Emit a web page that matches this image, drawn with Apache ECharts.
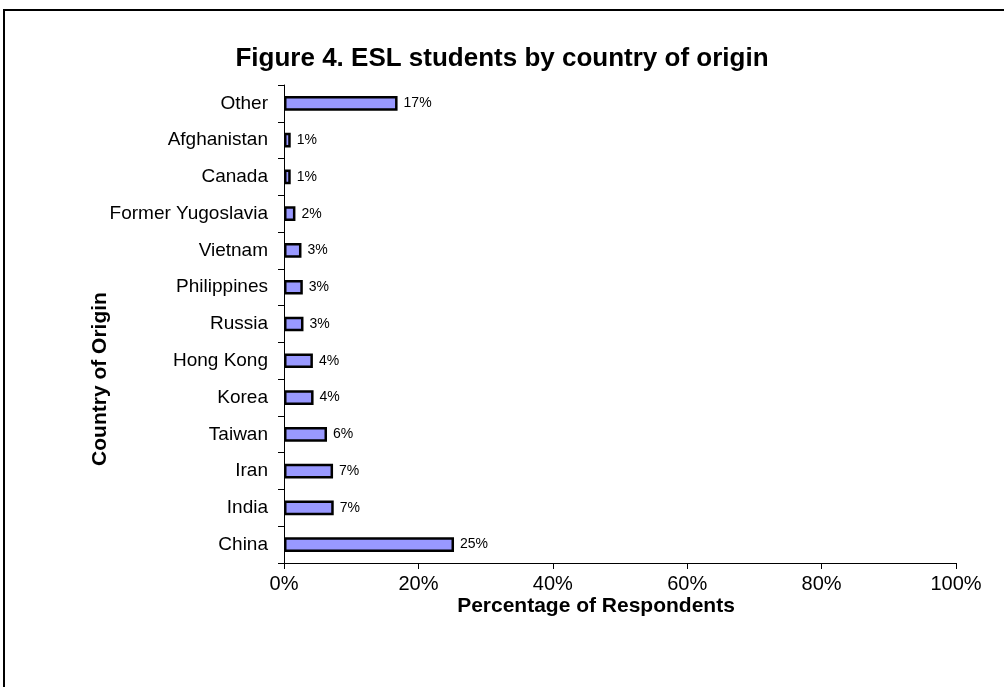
<!DOCTYPE html>
<html>
<head>
<meta charset="utf-8">
<script src="https://cdn.jsdelivr.net/npm/echarts@6/dist/echarts.min.js"></script>
<style>
  html, body { margin: 0; padding: 0; background: #fff; }
  #chart { width: 1004px; height: 687px; }
</style>
</head>
<body>
<div id="chart"></div>
<script>
// Countries, listed bottom-to-top along the category axis
const countries = ['China', 'India', 'Iran', 'Taiwan', 'Korea', 'Hong Kong', 'Russia',
  'Philippines', 'Vietnam', 'Former Yugoslavia', 'Canada', 'Afghanistan', 'Other'];
// Share of respondents (%)
const shares = [25.3, 7.4, 7.3, 6.4, 4.4, 4.3, 2.9, 2.8, 2.6, 1.7, 1.0, 1.0, 16.9];
// Percentage axis ticks
const xTicks = [0, 20, 40, 60, 80, 100];

const FONT = '"Liberation Sans", Arial, sans-serif';
const chart = echarts.init(document.getElementById('chart'), null, { renderer: 'canvas' });

const axisTitleStyle = { fontFamily: FONT, fontSize: 21, fontWeight: 'bold', fill: '#000' };

chart.setOption({
  animation: false,
  backgroundColor: '#ffffff',
  title: {
    text: 'Figure 4. ESL students by country of origin',
    left: 'center',
    top: 41,
    textStyle: { fontFamily: FONT, fontSize: 26, fontWeight: 'bold', color: '#000' }
  },
  graphic: [
    {
      // chart frame (runs off the right and bottom edges)
      type: 'rect',
      shape: { x: 4, y: 10, width: 1100, height: 800 },
      style: { fill: 'none', stroke: '#000', lineWidth: 2 },
      silent: true
    },
    {
      type: 'text',
      x: 100, y: 379,
      rotation: Math.PI / 2,
      style: Object.assign({ text: 'Country of Origin', align: 'center', verticalAlign: 'middle' }, axisTitleStyle),
      silent: true
    },
    {
      type: 'text',
      x: 596, y: 606,
      style: Object.assign({ text: 'Percentage of Respondents', align: 'center', verticalAlign: 'middle' }, axisTitleStyle),
      silent: true
    }
  ],
  grid: { left: 284, right: 48, top: 85, bottom: 124, containLabel: false },
  xAxis: {
    type: 'value',
    min: xTicks[0],
    max: xTicks[xTicks.length - 1],
    interval: xTicks[1] - xTicks[0],
    axisLine: { show: true, lineStyle: { color: '#000', width: 1 } },
    axisTick: { show: true, length: 6, lineStyle: { color: '#000' } },
    axisLabel: {
      formatter: '{value}%', margin: 11,
      fontFamily: FONT, fontSize: 20, color: '#000'
    },
    splitLine: { show: false }
  },
  yAxis: {
    type: 'category',
    data: countries,
    axisLine: { show: true, lineStyle: { color: '#000', width: 1 } },
    axisTick: { show: true, length: 6, lineStyle: { color: '#000' } },
    axisLabel: { margin: 16, fontFamily: FONT, fontSize: 19, color: '#000' }
  },
  series: [{
    type: 'bar',
    data: shares,
    barWidth: '40%',
    itemStyle: { color: '#9999FF', borderColor: '#000', borderWidth: 2.5 },
    label: {
      show: true,
      position: 'right',
      distance: 6,
      formatter: p => Math.round(p.value) + '%',
      fontFamily: FONT, fontSize: 14, color: '#000'
    }
  }]
});
</script>
</body>
</html>
